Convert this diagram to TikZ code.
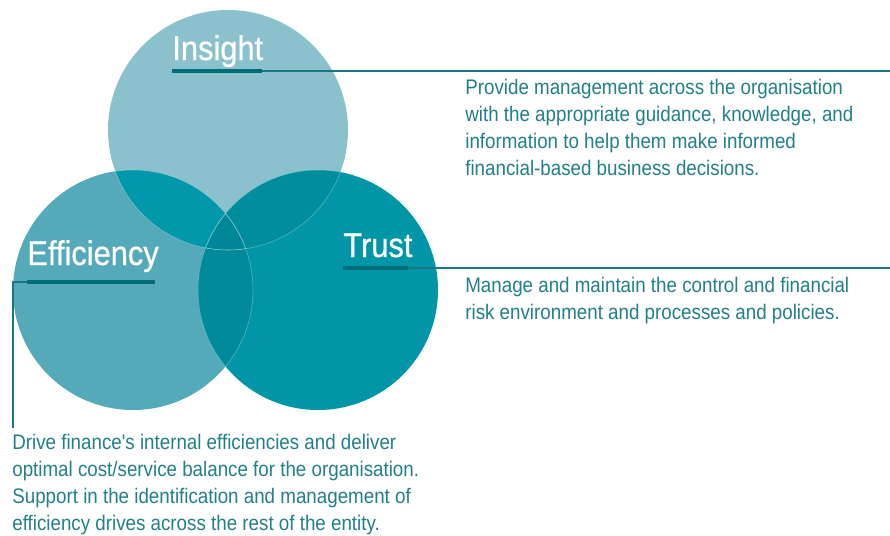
\documentclass[tikz,border=0pt]{standalone}
\usepackage{fontspec}
\newfontfamily\narrowfont{Liberation Sans}[FakeStretch=0.89]
\newfontfamily\headfont{Liberation Sans}[FakeStretch=0.9, FakeBold=0.6]
\usepackage{tikz}

\definecolor{insightc}{HTML}{8BC1CC}
\definecolor{effc}{HTML}{55AABA}
\definecolor{trustc}{HTML}{0096A8}
\definecolor{iec}{HTML}{0098AA}
\definecolor{itc}{HTML}{008E9F}
\definecolor{etc}{HTML}{008A9B}
\definecolor{allc}{HTML}{008797}
\definecolor{barc}{HTML}{006D78}
\definecolor{linec}{HTML}{1A7680}
\definecolor{desctxt}{HTML}{217F8A}

\begin{document}
\begin{tikzpicture}[x=0.02cm, y=-0.02cm,
        head/.style={text=white, font=\headfont\fontsize{19.5}{21}\selectfont, inner sep=0pt, anchor=base west},
        desc/.style={text=desctxt, font=\narrowfont\fontsize{12}{15.3}\selectfont, inner sep=0pt, anchor=north west, align=left},
        bar/.style={barc, line width=2.8pt},
        lead/.style={linec, line width=1.1pt},
        rim/.style={white, opacity=.35, line width=.3pt}]
    \useasboundingbox (0,0) rectangle (890,535);

    % circles
    \fill[insightc] (228,130) circle (120);
    \fill[effc] (133,290) circle (120);
    \fill[trustc] (318,290) circle (120);

    % overlaps
    \begin{scope}
        \clip (228,130) circle (120);
        \fill[iec] (133,290) circle (120);
        \fill[itc] (318,290) circle (120);
    \end{scope}
    \begin{scope}
        \clip (133,290) circle (120);
        \fill[etc] (318,290) circle (120);
        \clip (318,290) circle (120);
        \fill[allc] (228,130) circle (120);
    \end{scope}

    % faint rims inside the overlaps
    \begin{scope}
        \clip (318,290) circle (120);
        \draw[rim] (228,130) circle (120);
        \draw[rim] (133,290) circle (120);
    \end{scope}
    \begin{scope}
        \clip (133,290) circle (120);
        \draw[rim] (228,130) circle (120);
        \draw[rim] (318,290) circle (120);
    \end{scope}
    \begin{scope}
        \clip (228,130) circle (120);
        \draw[rim] (133,290) circle (120);
        \draw[rim] (318,290) circle (120);
    \end{scope}

    % headings
    \node[head] (insight) at (172,60) {Insight};
    \node[head] (trust) at (343,257) {Trust};
    \node[head] (efficiency) at (27,265) {Efficiency};

    % bars and leader lines
    \coordinate (ib) at (172,71);
    \coordinate (ie) at (262,71);
    \coordinate (ir) at (890,71);
    \coordinate (tb) at (343,268);
    \coordinate (te) at (408,268);
    \coordinate (tr) at (890,268);
    \coordinate (eb) at (27,282);
    \coordinate (ee) at (155,282);
    \coordinate (ed) at (13,428);
    \draw[lead] (ie) -- (ir);
    \draw[lead] (te) -- (tr);
    \draw[lead] (eb) -| (ed);
    \draw[bar] (ib) -- (ie);
    \draw[bar] (tb) -- (te);
    \draw[bar] (eb) -- (ee);

    % descriptions
    \node[desc] (insightdesc) at (465,79) {Provide management across the organisation\\with the appropriate guidance, knowledge, and\\information to help them make informed\\financial-based business decisions.};
    \node[desc] (trustdesc) at (465,277) {Manage and maintain the control and financial\\risk environment and processes and policies.};
    \node[desc] (efficiencydesc) at (12,434) {Drive finance's internal efficiencies and deliver\\optimal cost/service balance for the organisation.\\Support in the identification and management of\\efficiency drives across the rest of the entity.};
\end{tikzpicture}
\end{document}
